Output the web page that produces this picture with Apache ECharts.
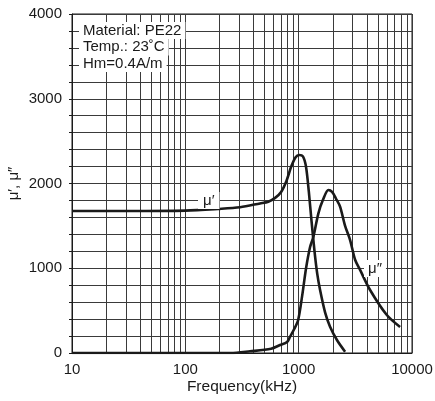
<!DOCTYPE html>
<html>
<head>
<meta charset="utf-8">
<script src="https://cdn.jsdelivr.net/npm/echarts@6/dist/echarts.min.js"></script>
<style>
  html, body { margin: 0; padding: 0; background: #fff; }
  #chart { width: 435px; height: 401px; }
</style>
</head>
<body>
<div id="chart"></div>
<script>
// frequency (kHz) vs permeability
var muRealFreq = [10, 30, 100, 194, 304, 456, 540, 620, 700, 780, 860, 940, 1010, 1090, 1160, 1230, 1300, 1380, 1460, 1545, 1710, 1892, 2183, 2568];
var muRealVal  = [1675, 1675, 1680, 1700, 1720, 1765, 1785, 1830, 1900, 2030, 2200, 2310, 2336, 2320, 2200, 1900, 1550, 1200, 930, 743, 480, 310, 150, 15];

var muImagFreq = [10, 100, 250, 372, 571, 685, 790, 840, 911, 990, 1075, 1162, 1261, 1349, 1493, 1642, 1829, 1971, 2138, 2319, 2568, 2843, 3147, 3483, 4267, 5995, 7852];
var muImagVal  = [0, 0, 0, 20, 50, 94, 130, 192, 280, 390, 680, 1000, 1250, 1372, 1648, 1810, 1923, 1900, 1820, 1727, 1500, 1333, 1100, 980, 743, 448, 307];

// 2..9 lines inside every decade
var minorFreq = [];
[10, 100, 1000].forEach(function (d) {
  for (var k = 2; k <= 9; k++) minorFreq.push(d * k);
});

var yTicks = [0, 1000, 2000, 3000, 4000];
var infoLines = ['Material: PE22', 'Temp.: 23˚C', 'Hm=0.4A/m'];

function pairs(xs, ys) {
  return xs.map(function (x, i) { return [x, ys[i]]; });
}

var chart = echarts.init(document.getElementById('chart'));

var font = 'Liberation Sans, Arial, sans-serif';
var ink = '#1a1a1a';
var gridCol = '#3a3a3a';

var option = {
  animation: false,
  grid: {
    left: 72, right: 23, top: 14, bottom: 48,
    outerBoundsMode: 'none',
    containLabel: false,
    show: true, borderColor: ink, borderWidth: 1
  },
  xAxis: {
    type: 'log',
    logBase: 10,
    min: 10,
    max: 10000,
    name: 'Frequency(kHz)',
    nameLocation: 'middle',
    nameGap: 26,
    nameMoveOverlap: false,
    nameTextStyle: { fontFamily: font, fontSize: 15.5, color: ink },
    axisLine: { lineStyle: { color: ink, width: 1 } },
    axisTick: { show: false },
    axisLabel: {
      fontFamily: font, fontSize: 15, color: ink, margin: 9,
      formatter: function (v) { return String(Math.round(v)); }
    },
    splitLine: { show: true, lineStyle: { color: gridCol, width: 1 } }
  },
  yAxis: {
    type: 'value',
    min: 0,
    max: 4000,
    interval: 200,
    name: 'μ′, μ″',
    nameLocation: 'middle',
    nameGap: 51,
    nameMoveOverlap: false,
    nameTextStyle: { fontFamily: font, fontSize: 15, color: ink },
    axisLine: { show: true, lineStyle: { color: ink, width: 1 } },
    axisTick: { show: true, length: 3, lineStyle: { color: ink } },
    axisLabel: {
      fontFamily: font, fontSize: 15, color: ink, margin: 10,
      formatter: function (v) { return yTicks.indexOf(v) >= 0 ? String(v) : ''; }
    },
    splitLine: { show: true, lineStyle: { color: gridCol, width: 1 } }
  },
  series: [
    {
      type: 'line',
      data: [],
      z: 1,
      silent: true,
      markLine: {
        silent: true,
        symbol: 'none',
        label: { show: false },
        lineStyle: { color: gridCol, width: 1, type: 'solid' },
        data: minorFreq.map(function (f) { return { xAxis: f }; })
      }
    },
    {
      name: 'mu1',
      type: 'line',
      data: pairs(muRealFreq, muRealVal),
      smooth: 0.3,
      showSymbol: false,
      z: 5,
      lineStyle: { color: ink, width: 2.6 }
    },
    {
      name: 'mu2',
      type: 'line',
      data: pairs(muImagFreq, muImagVal),
      smooth: 0.3,
      showSymbol: false,
      z: 5,
      lineStyle: { color: ink, width: 2.6 }
    }
  ],
  graphic: infoLines.map(function (t, i) {
    return {
      type: 'text',
      left: 79,
      top: 22 + i * 16.5,
      z: 50,
      style: {
        text: t,
        font: '15px ' + font,
        fill: ink,
        backgroundColor: '#fff',
        padding: [1, 4, 1, 4]
      }
    };
  }).concat([
    {
      type: 'text', left: 198, top: 192, z: 50,
      style: { text: 'μ′', font: '15px ' + font, fill: ink, backgroundColor: '#fff', padding: [1, 5, 1, 5] }
    },
    {
      type: 'text', left: 364, top: 260, z: 50,
      style: { text: 'μ″', font: '15px ' + font, fill: ink, backgroundColor: '#fff', padding: [1, 4, 1, 4] }
    }
  ])
};

chart.setOption(option);
</script>
</body>
</html>
